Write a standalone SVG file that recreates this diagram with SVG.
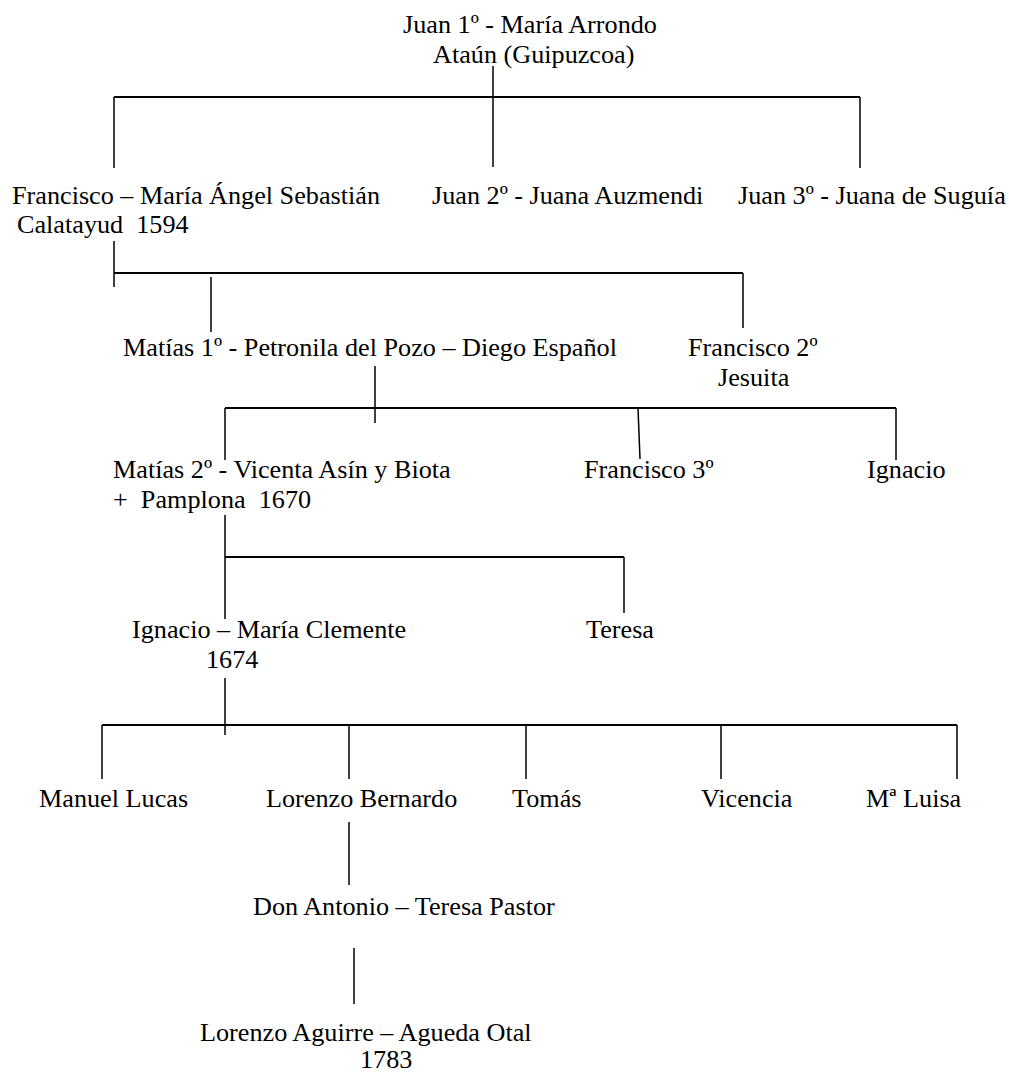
<svg xmlns="http://www.w3.org/2000/svg" width="1009" height="1072" viewBox="0 0 1009 1072">
<style>
text{font-family:"Liberation Serif","Times New Roman",serif;font-size:26.2px;fill:#000}
.h{stroke:#000;stroke-width:2;fill:none}
.v{stroke:#000;stroke-width:1.5;fill:none}
</style>
<rect width="1009" height="1072" fill="#fff"/>
<g id="connectors">
<line class="v" x1="493" y1="66" x2="493" y2="167"/>
<line class="h" x1="114" y1="97" x2="860" y2="97"/>
<line class="v" x1="114" y1="97" x2="114" y2="168"/>
<line class="v" x1="860" y1="97" x2="860" y2="168"/>
<line class="v" x1="114" y1="241" x2="114" y2="287"/>
<line class="h" x1="114" y1="273" x2="743" y2="273"/>
<line class="v" x1="211" y1="277" x2="211" y2="332"/>
<line class="v" x1="743" y1="273" x2="743" y2="328"/>
<line class="v" x1="375" y1="366" x2="375" y2="423"/>
<line class="h" x1="225" y1="408" x2="896" y2="408"/>
<line class="v" x1="225" y1="408" x2="225" y2="460"/>
<line class="v" x1="638" y1="408" x2="640" y2="459"/>
<line class="v" x1="896" y1="408" x2="896" y2="460"/>
<line class="v" x1="225" y1="515" x2="225" y2="619"/>
<line class="h" x1="225" y1="557" x2="624" y2="557"/>
<line class="v" x1="624" y1="557" x2="624" y2="613"/>
<line class="v" x1="225" y1="678" x2="225" y2="735"/>
<line class="h" x1="102" y1="725" x2="957" y2="725"/>
<line class="v" x1="102" y1="725" x2="102" y2="779"/>
<line class="v" x1="349" y1="725" x2="349" y2="779"/>
<line class="v" x1="526" y1="725" x2="526" y2="779"/>
<line class="v" x1="721" y1="725" x2="721" y2="779"/>
<line class="v" x1="957" y1="725" x2="957" y2="779"/>
<line class="v" x1="349" y1="822" x2="349" y2="885"/>
<line class="v" x1="354" y1="948" x2="354" y2="1004"/>
</g>
<g id="juan1">
<text x="403" y="33">Juan 1º - María Arrondo</text>
<text x="433" y="63">Ataún (Guipuzcoa)</text>
</g>
<g id="francisco1">
<text x="12" y="204">Francisco – María Ángel Sebastián</text>
<text x="17" y="233" xml:space="preserve">Calatayud  1594</text>
</g>
<g id="juan2"><text x="432" y="204">Juan 2º - Juana Auzmendi</text></g>
<g id="juan3"><text x="738" y="204">Juan 3º - Juana de Suguía</text></g>
<g id="matias1"><text x="123" y="356">Matías 1º - Petronila del Pozo – Diego Español</text></g>
<g id="francisco2">
<text x="688" y="356">Francisco 2º</text>
<text x="718" y="386">Jesuita</text>
</g>
<g id="matias2">
<text x="113" y="478">Matías 2º - Vicenta Asín y Biota</text>
<text x="113" y="508" xml:space="preserve">+  Pamplona  1670</text>
</g>
<g id="francisco3"><text x="584" y="478">Francisco 3º</text></g>
<g id="ignacio1"><text x="867" y="478">Ignacio</text></g>
<g id="ignacio2">
<text x="132" y="638">Ignacio – María Clemente</text>
<text x="206" y="668">1674</text>
</g>
<g id="teresa1"><text x="586" y="638">Teresa</text></g>
<g id="manuel"><text x="39" y="807">Manuel Lucas</text></g>
<g id="lorenzo1"><text x="266" y="807">Lorenzo Bernardo</text></g>
<g id="tomas"><text x="512" y="807">Tomás</text></g>
<g id="vicencia"><text x="701" y="807">Vicencia</text></g>
<g id="maluisa"><text x="866" y="807">Mª Luisa</text></g>
<g id="antonio"><text x="253" y="915">Don Antonio – Teresa Pastor</text></g>
<g id="lorenzo2">
<text x="200" y="1041">Lorenzo Aguirre – Agueda Otal</text>
<text x="360" y="1068">1783</text>
</g>
</svg>
